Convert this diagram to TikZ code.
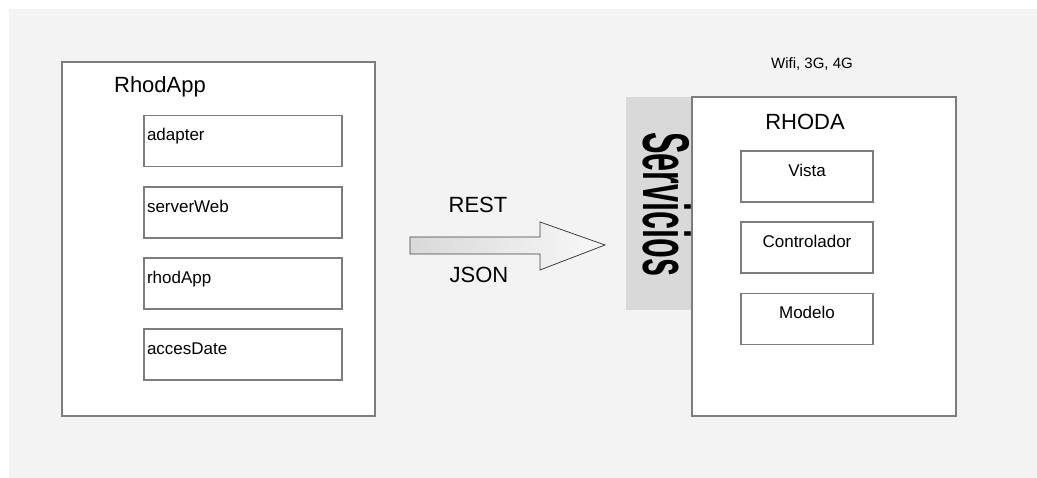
\documentclass[tikz,border=0pt]{standalone}
\usepackage{fontspec}
\setmainfont{Liberation Sans}
\usepackage{graphicx}
\definecolor{bg}{RGB}{243, 243, 243}
\definecolor{frame}{RGB}{125, 125, 125}
\definecolor{panel}{RGB}{217, 217, 217}
\tikzset{
  outer/.style={draw=frame, fill=white, line width=1.2pt},
  layer/.style={draw=frame, fill=white, line width=1.2pt, inner ysep=0pt, inner xsep=3pt,
    text height=25.5pt, text depth=25.5pt, font=\fontsize{17}{20}\selectfont},
  title/.style={font=\fontsize{22}{26}\selectfont},
  small/.style={font=\fontsize{15}{18}\selectfont}
}

\begin{document}
\begin{tikzpicture}[x=1pt, y=-1pt]
  \fill[white] (0, 0) rectangle (1037, 478);
  \fill[bg] (9, 9) rectangle (1037, 478);
  \useasboundingbox (0, 0) rectangle (1037, 478);

  % cliente
  \node[outer, minimum width=313, minimum height=354] (rhodapp) at (218.5, 239) {};
  \node[title] (rhodappTitle) at (160, 87) {RhodApp};
  \node[layer, text width=192, align=left] (adapter)   at (243, 141)   {adapter};
  \node[layer, text width=192, align=left] (serverWeb) at (243, 212.5) {serverWeb};
  \node[layer, text width=192, align=left] (rhodAppL)  at (243, 283.5) {rhodApp};
  \node[layer, text width=192, align=left] (accesDate) at (243, 354.5) {accesDate};

  % flecha
  \path[draw=black!75, line width=0.8pt, left color=gray!30, middle color=gray!50, right color=gray!5]
    (410, 237) -- (540, 237) -- (540, 222) -- (605, 245) -- (540, 270) -- (540, 254) -- (410, 254) -- cycle;
  \node[title] (rest) at (478, 205) {REST};
  \node[title] (json) at (479, 275) {JSON};

  % servidor
  \node[fill=panel, minimum width=66, minimum height=213, inner sep=0pt] (panel) at (659, 203.5) {};
  \node[rotate=-90, anchor=base west, inner sep=0pt, font=\fontsize{66}{66}\selectfont\bfseries]
    (servicios) at (643, 132) {\scalebox{0.49}[1]{Servicios}};
  \node[outer, minimum width=264, minimum height=319] (rhoda) at (824, 256.5) {};
  \node[small] (redes) at (812, 64) {Wifi, 3G, 4G};
  \node[title] (rhodaTitle) at (805, 122) {RHODA};
  \node[layer, text width=126, align=center] (vista)       at (807, 176.5) {Vista};
  \node[layer, text width=126, align=center] (controlador) at (807, 247.5) {Controlador};
  \node[layer, text width=126, align=center] (modelo)      at (807, 319)   {Modelo};
\end{tikzpicture}
\end{document}
